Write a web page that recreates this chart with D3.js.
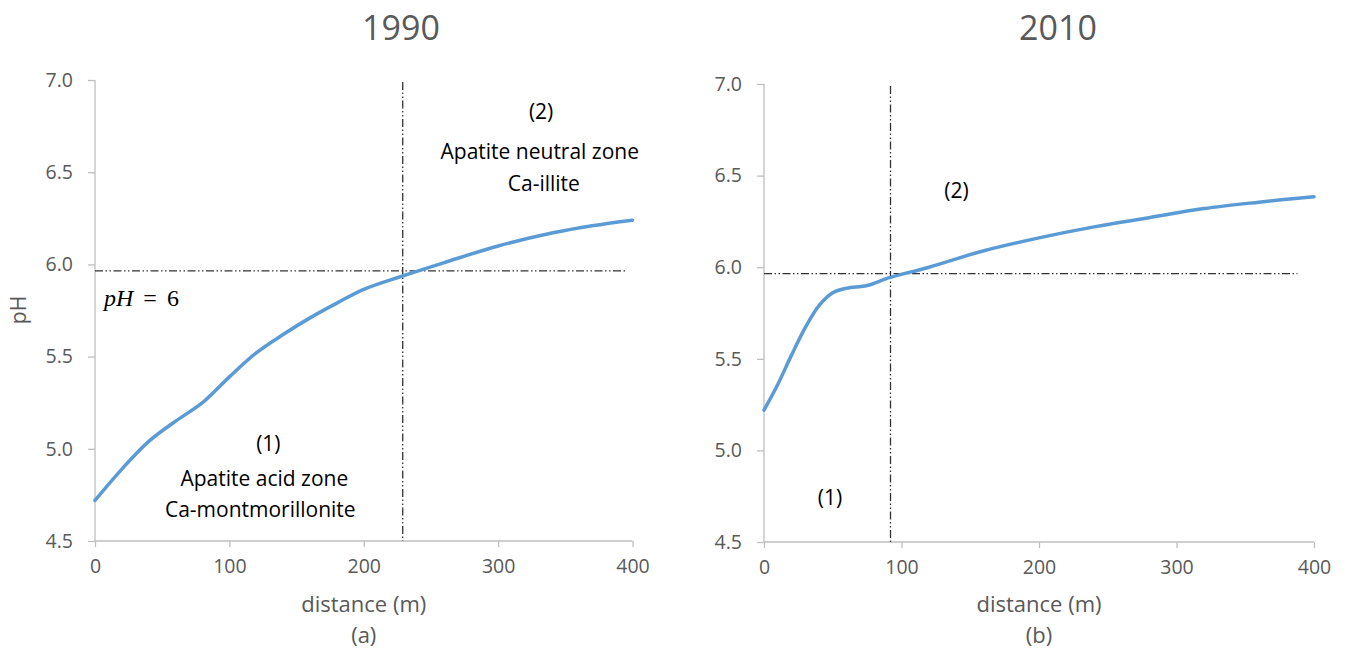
<!DOCTYPE html>
<html>
<head>
<meta charset="utf-8">
<script src="https://cdn.jsdelivr.net/npm/d3@7"></script>
<style>
  body { margin: 0; background: #fff; }
  svg { display: block; }
  .tick text { font-family: "Open Sans", sans-serif; fill: #595959; }
</style>
</head>
<body>
<svg id="chart" width="1349" height="657"></svg>
<script>
// ---- data ----
const distA = [0, 20, 40, 60, 80, 100, 120, 140, 160, 180, 200, 230, 260, 300, 340, 370, 400];
const phA   = [4.72, 4.89, 5.04, 5.15, 5.25, 5.39, 5.52, 5.62, 5.71, 5.79, 5.865, 5.94, 6.01, 6.10, 6.17, 6.21, 6.24];
const distB = [0, 10, 20, 30, 40, 50, 60, 75, 90, 120, 160, 200, 240, 280, 320, 360, 400];
const phB   = [5.22, 5.36, 5.52, 5.67, 5.79, 5.86, 5.885, 5.90, 5.94, 6.0, 6.09, 6.16, 6.22, 6.27, 6.32, 6.355, 6.385];
const xTicks = [0, 100, 200, 300, 400];
const yTicks = [4.5, 5.0, 5.5, 6.0, 6.5, 7.0];
const titles = ["1990", "2010"];
const subLabels = ["(a)", "(b)"];
const thresholdPH = 5.965;
const hLineEndA = [0, 396];
const hLineEndB = [0, 388];
const boundaryA = 229;
const boundaryB = 92;

const svg = d3.select("#chart");
const FONT = "'Open Sans', sans-serif";

const panels = [
  { dist: distA, ph: phA, x0: 95, x1: 632.5, y0: 541, y1: 80, title: titles[0], sub: subLabels[0],
    titleX: 401, hEnd: hLineEndA, vX: boundaryA, showYLabel: true,
    notes: [
      { t: "(2)", d: 332, p: 6.82 },
      { t: "Apatite neutral zone", d: 331, p: 6.60 },
      { t: "Ca-illite", d: 334, p: 6.43 },
      { t: "(1)", d: 129, p: 5.02 },
      { t: "Apatite acid zone", d: 126, p: 4.83 },
      { t: "Ca-montmorillonite", d: 123, p: 4.66 }
    ] },
  { dist: distB, ph: phB, x0: 764, x1: 1314, y0: 542, y1: 84, title: titles[1], sub: subLabels[1],
    titleX: 1058, hEnd: hLineEndB, vX: boundaryB, showYLabel: false,
    notes: [
      { t: "(2)", d: 140, p: 6.41 },
      { t: "(1)", d: 48, p: 4.73 }
    ] }
];

panels.forEach((P, i) => {
  const x = d3.scaleLinear().domain([0, 400]).range([P.x0, P.x1]);
  const y = d3.scaleLinear().domain([4.5, 7.0]).range([P.y0, P.y1]);
  const g = svg.append("g");

  // y axis
  const ya = g.append("g").attr("transform", `translate(${P.x0},0)`)
    .call(d3.axisLeft(y).tickValues(yTicks).tickFormat(d3.format(".1f")).tickSize(7).tickPadding(15));
  ya.selectAll("path, line").attr("stroke", "#bfbfbf").attr("stroke-width", 1.3);
  ya.select(".domain").attr("d", `M0,${P.y0}V${P.y1}`);
  ya.selectAll("text").attr("font-size", 19.5).attr("font-family", FONT);

  // x axis
  const xa = g.append("g").attr("transform", `translate(0,${P.y0})`)
    .call(d3.axisBottom(x).tickValues(xTicks).tickFormat(d3.format("d")).tickSize(6).tickPadding(12));
  xa.selectAll("path, line").attr("stroke", "#bfbfbf").attr("stroke-width", 1.3);
  xa.select(".domain").attr("d", `M${P.x0},0H${P.x1}`);
  xa.selectAll("text").attr("font-size", 19.5).attr("font-family", FONT);

  // reference lines
  const dashStyle = "8,2.5,1.5,2.5,1.5,2.5";
  g.append("line")
    .attr("x1", x(P.hEnd[0])).attr("x2", x(P.hEnd[1]))
    .attr("y1", y(thresholdPH)).attr("y2", y(thresholdPH))
    .attr("stroke", "#333").attr("stroke-width", 1.3).attr("stroke-dasharray", dashStyle);
  g.append("line")
    .attr("x1", x(P.vX)).attr("x2", x(P.vX))
    .attr("y1", P.y1 + 2).attr("y2", P.y0)
    .attr("stroke", "#333").attr("stroke-width", 1.3).attr("stroke-dasharray", dashStyle);

  // curve
  const pts = P.dist.map((d, k) => [d, P.ph[k]]);
  g.append("path").datum(pts)
    .attr("fill", "none").attr("stroke", "#5B9BD5").attr("stroke-width", 3.5)
    .attr("stroke-linecap", "round")
    .attr("d", d3.line().x(d => x(d[0])).y(d => y(d[1])).curve(d3.curveCatmullRom.alpha(0.5)));

  // title
  g.append("text").attr("x", P.titleX).attr("y", 40)
    .attr("text-anchor", "middle").attr("font-family", FONT).attr("font-size", 34)
    .attr("fill", "#595959").text(P.title);

  // axis title and sub label
  const cx = (P.x0 + P.x1) / 2;
  g.append("text").attr("x", cx).attr("y", 612)
    .attr("text-anchor", "middle").attr("font-family", FONT).attr("font-size", 22)
    .attr("fill", "#595959").text("distance (m)");
  g.append("text").attr("x", cx).attr("y", 643)
    .attr("text-anchor", "middle").attr("font-family", FONT).attr("font-size", 22)
    .attr("fill", "#595959").text(P.sub);

  if (P.showYLabel) {
    g.append("text").attr("transform", `translate(26,310) rotate(-90)`)
      .attr("text-anchor", "middle").attr("font-family", FONT).attr("font-size", 21)
      .attr("fill", "#595959").text("pH");
    const ph6 = g.append("text").attr("x", 104).attr("y", 306)
      .attr("font-family", "'Liberation Serif', serif").attr("font-size", 24).attr("fill", "#000");
    ph6.append("tspan").attr("font-style", "italic").text("pH");
    ph6.append("tspan").attr("dx", 10).text("=");
    ph6.append("tspan").attr("dx", 10).text("6");
  }

  // annotations
  P.notes.forEach(n => {
    g.append("text").attr("x", x(n.d)).attr("y", y(n.p))
      .attr("text-anchor", "middle").attr("dominant-baseline", "middle")
      .attr("font-family", FONT).attr("font-size", 21).attr("fill", "#000").text(n.t);
  });
});
</script>
</body>
</html>
